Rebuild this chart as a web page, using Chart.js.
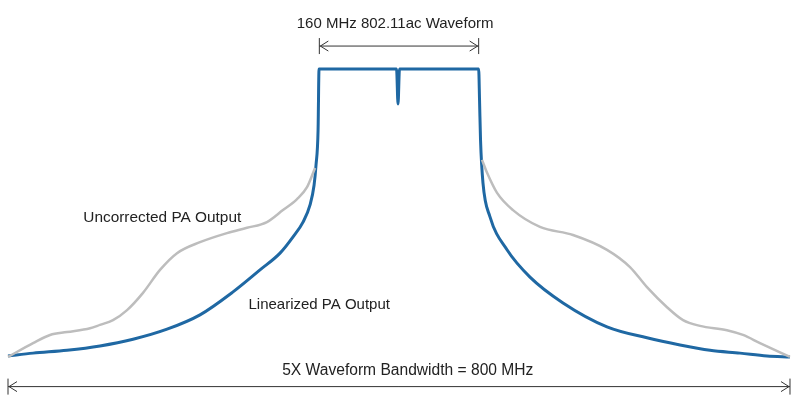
<!DOCTYPE html>
<html lang="en">
<head>
<meta charset="UTF-8" />
<title>PA Output Spectrum</title>
<script src="https://cdn.jsdelivr.net/npm/chart.js@4.4.1/dist/chart.umd.min.js"></script>
<style>
  body { margin: 0; background: #fff; }
  canvas { display: block; }
</style>
</head>
<body>
<canvas id="mychart" width="798" height="400"></canvas>
<script>
// frequency offset in MHz, level in dB (0 = in-band level)
const linearFreq = [-400, -374.4, -339.6, -305.9, -272.1, -237.3, -203.6, -169.8, -142.2, -121.7, -108.4, -98.2, -91, -86.9, -84.9, -82.8, -81.8,
                    -2.5, -1, 0.5,
                    81.5, 82.4, 83.4, 85.9, 93.1, 110.5, 134, 167.8, 212.8, 253.7, 287.5, 318.2, 348.9, 376.5, 400];
const linearDb   = [-60, -59.4, -58.8, -57.9, -56.5, -54.4, -51.4, -46.6, -42, -38.5, -35.1, -32, -28.4, -24.3, -20.1, -12.8, 0,
                    0, -7.3, 0,
                    0, -6.5, -14.8, -23.8, -30.9, -37.8, -43.5, -48.9, -53.9, -56.2, -57.7, -58.8, -59.4, -60, -60.2];

const uncorrLeftFreq  = [-400, -374.4, -357, -339.6, -316.1, -305.9, -292.6, -278.2, -261.9, -244.5, -227.1, -203.6, -176, -155.5, -135.1, -118.7, -104.3, -94.1, -85.9];
const uncorrLeftDb    = [-60.2, -57.3, -55.6, -55, -54.2, -53.5, -52.5, -50.4, -46.8, -42, -38.5, -36.2, -34.3, -33.2, -32, -29.5, -27.2, -24.7, -20.7];
const uncorrRightFreq = [84.9, 90.1, 100.3, 116.6, 144.2, 178, 212.8, 236.3, 253.7, 274.2, 290.6, 307.9, 335.5, 351.9, 369.3, 400];
const uncorrRightDb   = [-19, -21.7, -25.9, -29.5, -33, -34.7, -37.8, -41.4, -45.6, -49.8, -52.5, -53.7, -54.6, -55.6, -57.3, -60.2];

const bandEdges = [-81.5, 81.5];
const spanEdges = [-400, 400];

function pts(xs, ys) {
    return xs.map((x, i) => ({ x: x, y: ys[i] }));
}

const gray = '#bdbdbd';
const blue = '#1f68a3';
const ink = '#333333';
const face = '"Liberation Sans", Arial, sans-serif';

function arrow(ctx, x1, x2, y) {
    ctx.beginPath();
    ctx.moveTo(x1, y); ctx.lineTo(x2, y);
    ctx.moveTo(x1, y - 8); ctx.lineTo(x1, y + 8);
    ctx.moveTo(x2, y - 8); ctx.lineTo(x2, y + 8);
    ctx.moveTo(x1 + 9, y - 5); ctx.lineTo(x1 + 1, y); ctx.lineTo(x1 + 9, y + 5);
    ctx.moveTo(x2 - 9, y - 5); ctx.lineTo(x2 - 1, y); ctx.lineTo(x2 - 9, y + 5);
    ctx.stroke();
}

const annotations = {
    id: 'annotations',
    afterDraw(chart) {
        const ctx = chart.ctx;
        const xs = chart.scales.x, ys = chart.scales.y;
        ctx.save();
        ctx.strokeStyle = ink;
        ctx.lineWidth = 1;
        ctx.fillStyle = '#222';
        ctx.textBaseline = 'middle';

        const topY = ys.getPixelForValue(4.8);
        arrow(ctx, xs.getPixelForValue(bandEdges[0]), xs.getPixelForValue(bandEdges[1]), topY);
        ctx.textAlign = 'center';
        ctx.font = '15px ' + face;
        ctx.fillText('160 MHz 802.11ac Waveform', xs.getPixelForValue(-4), ys.getPixelForValue(9.4));

        const botY = ys.getPixelForValue(-66.4);
        arrow(ctx, xs.getPixelForValue(spanEdges[0]), xs.getPixelForValue(spanEdges[1]), botY);
        ctx.font = '15.6px ' + face;
        ctx.fillText('5X Waveform Bandwidth = 800 MHz', xs.getPixelForValue(9), ys.getPixelForValue(-63));

        ctx.textAlign = 'left';
        ctx.font = '15.4px ' + face;
        ctx.fillText('Uncorrected PA Output', xs.getPixelForValue(-323), ys.getPixelForValue(-31.2));
        ctx.font = '15px ' + face;
        ctx.fillText('Linearized PA Output', xs.getPixelForValue(-154), ys.getPixelForValue(-49.4));
        ctx.restore();
    }
};

const ctx = document.getElementById('mychart').getContext('2d');
new Chart(ctx, {
    type: 'line',
    data: {
        datasets: [
            { data: pts(uncorrLeftFreq, uncorrLeftDb), borderColor: gray, borderWidth: 2.5 },
            { data: pts(uncorrRightFreq, uncorrRightDb), borderColor: gray, borderWidth: 2.5 },
            { data: pts(linearFreq, linearDb), borderColor: blue, borderWidth: 3 }
        ]
    },
    options: {
        responsive: false,
        animation: false,
        layout: { padding: 0 },
        elements: {
            point: { radius: 0 },
            line: { cubicInterpolationMode: 'monotone', fill: false }
        },
        scales: {
            x: { type: 'linear', min: -408.2, max: 408.2, display: false },
            y: { type: 'linear', min: -69.2, max: 14.43, display: false }
        },
        plugins: {
            legend: { display: false },
            tooltip: { enabled: false }
        }
    },
    plugins: [annotations]
});
</script>
</body>
</html>
